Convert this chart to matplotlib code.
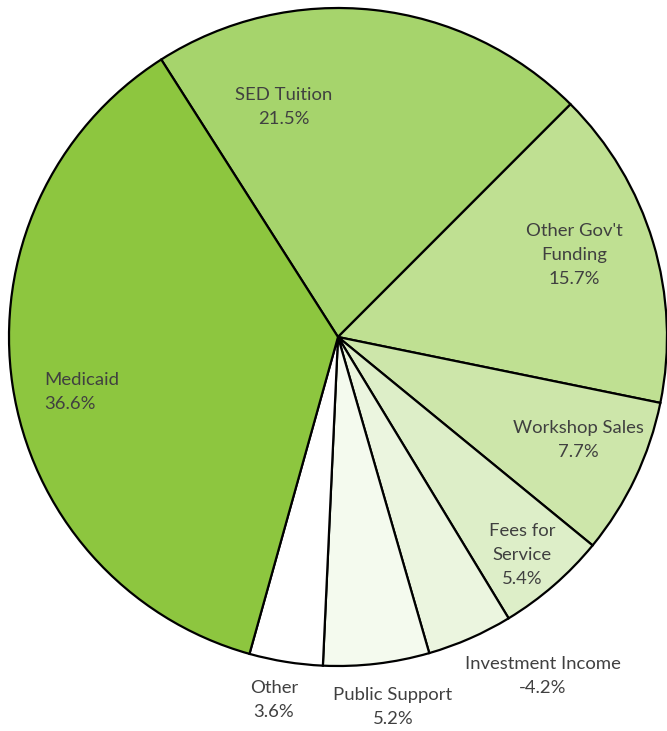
import numpy as np
import matplotlib.pyplot as plt

plt.rcParams['font.family'] = ['Lato', 'DejaVu Sans']

# revenue sources, clockwise from the top
fontes = ["SED Tuition", "Other Gov't\nFunding", "Workshop Sales", "Fees for\nService",
          "Investment Income", "Public Support", "Other", "Medicaid"]
valores = [21.5, 15.7, 7.7, 5.4, -4.2, 5.2, 3.6, 36.6]
cores = ['#a6d46c', '#bfe092', '#cde6aa', '#ddeec8', '#ebf5df', '#f4faee', '#ffffff', '#8dc63f']

# label anchor points in pixels (x, y from top) and alignment
pos_lbl = [(284, 107), (574, 255), (578, 440), (522, 555),
           (543, 676), (393, 707), (274, 700), (44, 392)]
alinh = ['center', 'center', 'center', 'center', 'center', 'center', 'center', 'left']

W, H = 667, 731
fig = plt.figure(figsize=(W / 100, H / 100), dpi=100)
ax = fig.add_axes([0, 0, 1, 1])

tam = np.abs(valores)
ax.pie(tam, colors=cores, startangle=122.5, counterclock=False,
       center=(338, H - 337), radius=329, frame=True,
       wedgeprops={'edgecolor': 'black', 'linewidth': 1.6})
ax.set_xlim(0, W)
ax.set_ylim(0, H)
ax.set_aspect('equal')
ax.axis('off')

for nome, v, (x, y), a in zip(fontes, valores, pos_lbl, alinh):
    txt = f'{nome}\n{v:.1f}%'
    ax.text(x, H - y, txt, ha=a, va='center', multialignment=a,
            fontsize=13.3, color='#404040', linespacing=1.65)

fig.savefig('out.png', dpi=100)
